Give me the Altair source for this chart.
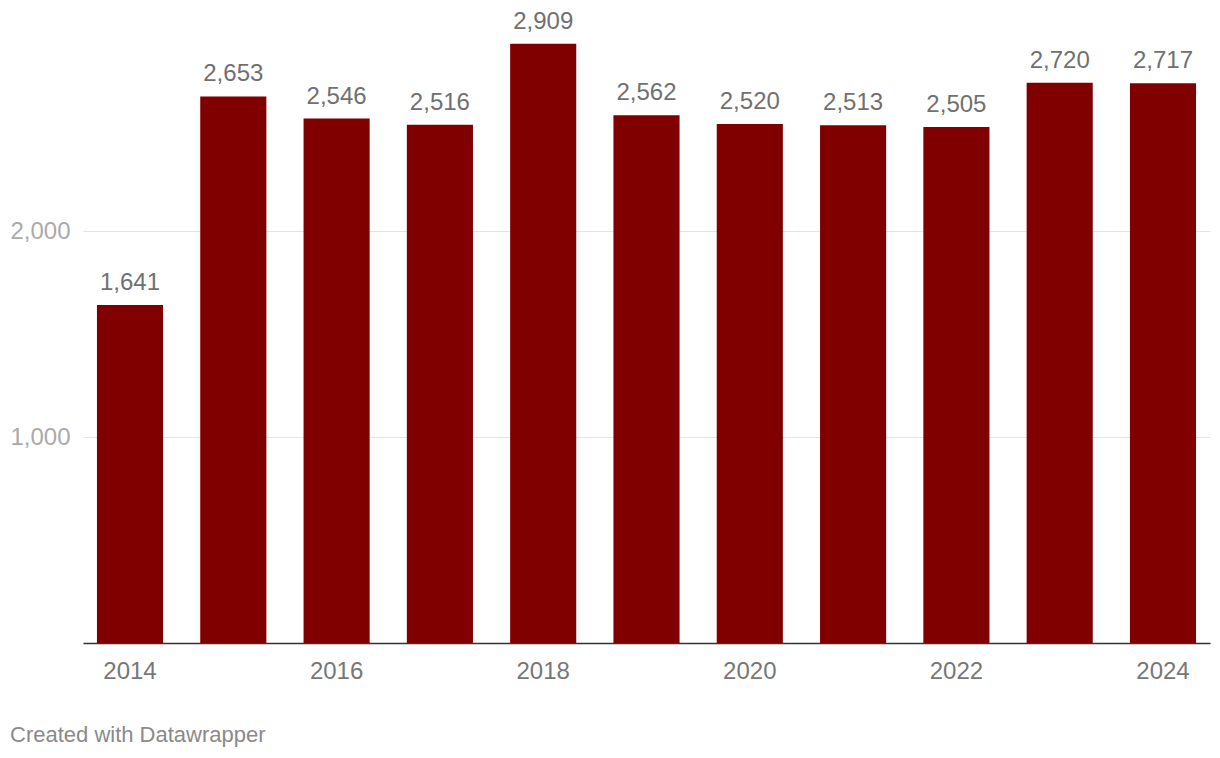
import altair as alt
import pandas as pd

years = ["2014", "2015", "2016", "2017", "2018", "2019", "2020", "2021", "2022", "2023", "2024"]
values = [1641, 2653, 2546, 2516, 2909, 2562, 2520, 2513, 2505, 2720, 2717]
x_tick_labels = ["2014", "2016", "2018", "2020", "2022", "2024"]
y_tick_values = [1000, 2000]
footer = ["Created with Datawrapper"]

df = pd.DataFrame({"year": years, "value": values})

FONT = "Liberation Sans"
W, H = 1127, 618

x_enc = alt.X("year:O",
              scale=alt.Scale(paddingInner=0.36, paddingOuter=0.135),
              axis=alt.Axis(values=x_tick_labels, title=None, labelAngle=0,
                            labelFont=FONT, labelFontSize=24, labelColor="#777777",
                            labelPadding=16, ticks=False, domain=True,
                            domainColor="#333333", domainWidth=1.5, grid=False))
y_enc = alt.Y("value:Q",
              scale=alt.Scale(domain=[0, 3000], nice=False),
              axis=alt.Axis(values=y_tick_values, title=None, format=",.0f",
                            labelFont=FONT, labelFontSize=24, labelColor="#aaaaaa",
                            labelPadding=13, ticks=False, domain=False,
                            grid=True, gridColor="#e3e3e3", gridWidth=1))

bars = alt.Chart(df).mark_bar(color="#800000").encode(x=x_enc, y=y_enc)

labels = alt.Chart(df).mark_text(font=FONT, fontSize=24, color="#707070",
                                 baseline="alphabetic", dy=-15).encode(
    x=alt.X("year:O"), y=alt.Y("value:Q"), text=alt.Text("value:Q", format=",.0f"))

foot = alt.Chart(pd.DataFrame({"t": footer})).mark_text(
    font=FONT, fontSize=22, color="#8a8a8a", align="left", baseline="middle").encode(
    x=alt.value(-73), y=alt.value(710), text="t:N")

chart = alt.layer(bars, labels, foot).properties(
    width=W, height=H,
    autosize=alt.AutoSizeParams(type="none"),
    padding={"left": 75, "top": 17, "right": 2, "bottom": 115},
    background="white",
).configure_view(strokeWidth=0, stroke="transparent")

chart.save("out.html", embed_options={"renderer": "svg", "actions": False})
